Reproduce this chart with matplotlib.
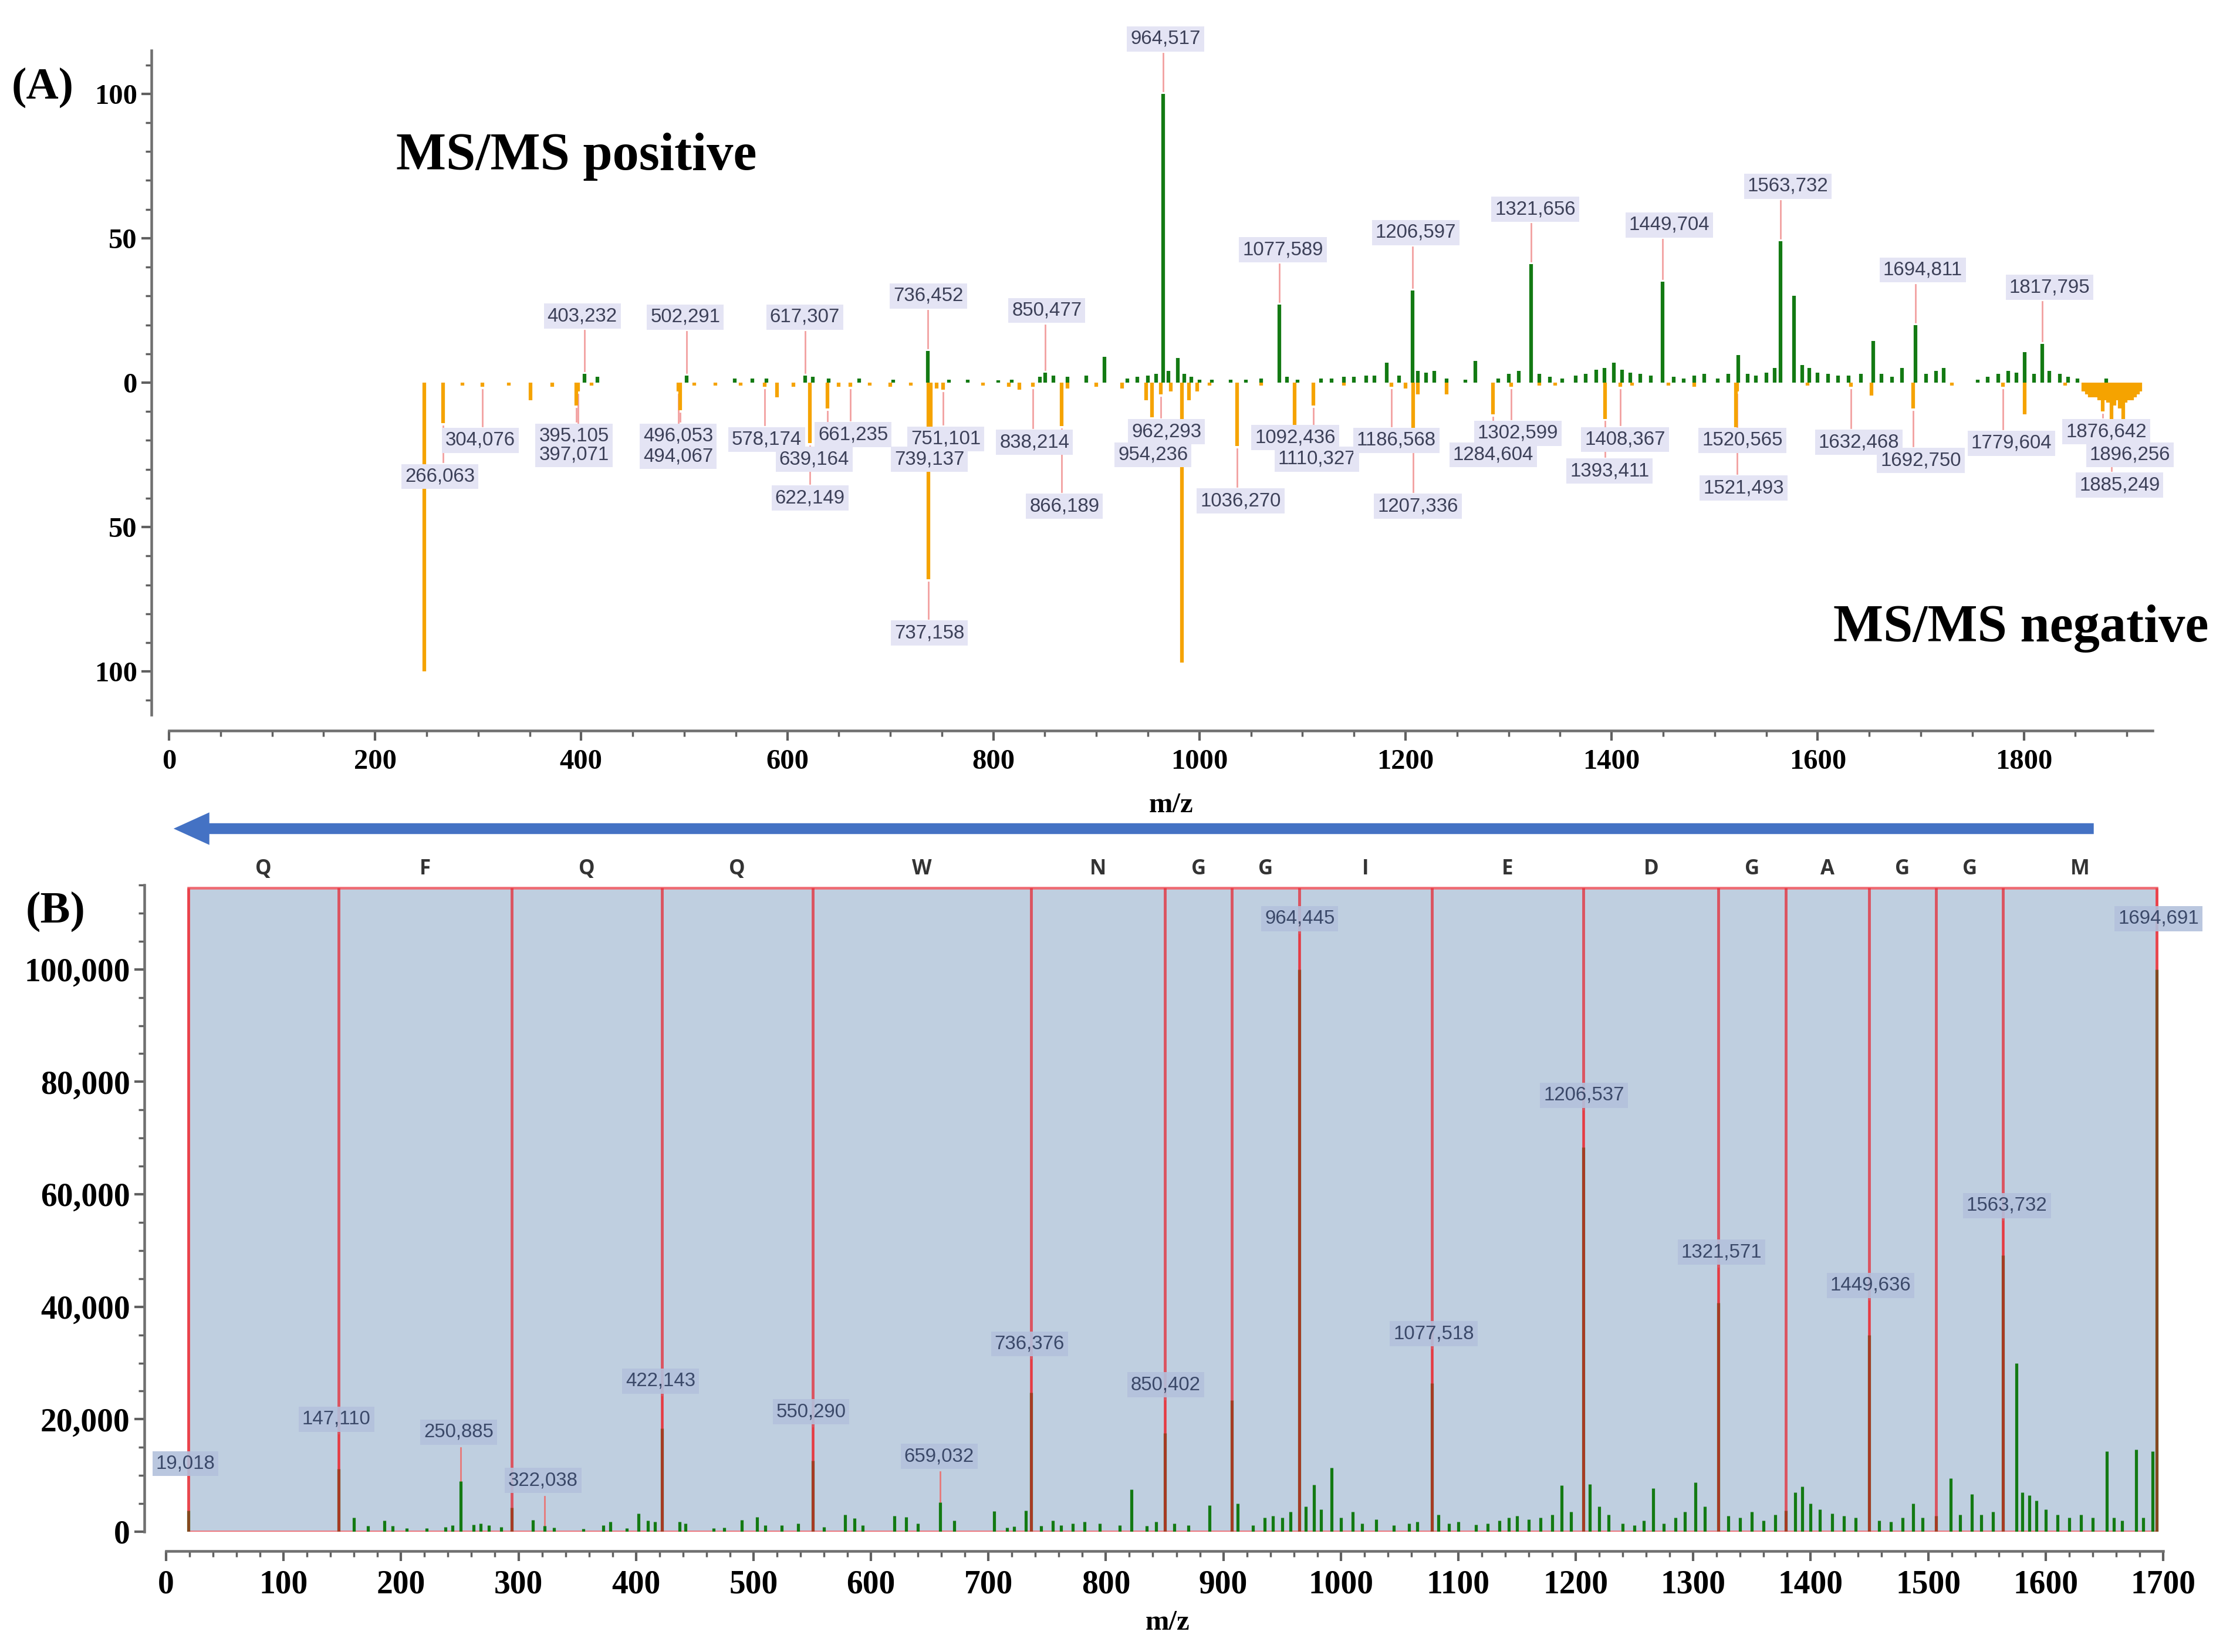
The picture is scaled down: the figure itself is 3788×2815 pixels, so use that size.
import matplotlib
matplotlib.use('Agg')
import matplotlib.pyplot as plt
from matplotlib.patches import FancyArrow, Rectangle
from matplotlib.ticker import MultipleLocator, FuncFormatter

# ---------------- panel A data (relative intensity, %) ----------------
pos_mz = [403.232, 416, 502.291, 549, 566, 580, 617.307, 625, 640, 670, 703, 736.452, 757,
          775, 805, 818, 845, 850.477, 858, 872, 890, 908, 930, 940, 950, 958, 964.517, 970,
          979, 985, 992, 1000, 1012, 1030, 1045, 1060, 1077.589, 1085, 1095, 1118, 1128, 1140,
          1150, 1162, 1170, 1182, 1194, 1206.597, 1212, 1220, 1228, 1240, 1258, 1268, 1290,
          1300, 1310, 1321.656, 1330, 1340, 1352, 1365, 1375, 1385, 1393, 1402, 1410, 1418,
          1428, 1438, 1449.704, 1460, 1470, 1480, 1490, 1503, 1513, 1523, 1532, 1540, 1550,
          1558, 1563.732, 1577, 1585, 1592, 1600, 1610, 1620, 1630, 1642, 1654, 1662, 1672,
          1682, 1694.811, 1705, 1715, 1722, 1755, 1765, 1775, 1785, 1793, 1801, 1810,
          1817.795, 1825, 1835, 1843, 1852, 1880]
pos_int = [3, 2, 2.5, 1.5, 1.5, 1.5, 2.5, 2, 1.5, 1.5, 1, 11, 1,
           1, 0.8, 1, 2, 3.5, 2.5, 2, 2.5, 9, 1.5, 2, 2.5, 3, 100, 4,
           8.5, 3, 2, 1, 1, 1, 1, 1.5, 27, 2, 1, 1.5, 1.5, 2,
           2, 2.5, 2.5, 7, 2.5, 32, 4, 3.5, 4, 1.5, 1, 7.5, 1.5,
           3, 4, 41, 3, 2, 1.5, 2.5, 3, 4.5, 5, 7, 4.5, 3.5,
           3, 2.5, 35, 2, 1.5, 2.5, 3, 1.5, 3, 9.5, 3, 2.5, 3.5,
           5, 49, 30, 6, 5, 3.5, 3, 2.5, 2.5, 3, 14.5, 3, 2,
           5, 20, 3, 4, 5, 1, 2, 3, 4, 3.5, 10.5, 3,
           13.5, 4, 3, 2, 1.5, 1.5]

neg_mz = [248, 266.063, 285, 304.076, 330, 351, 372, 395.105, 397.071, 410, 494.067, 496.053,
          510, 530, 555, 578.174, 590, 606, 622.149, 639.164, 650, 661.235, 680, 700, 720,
          737.158, 739.137, 745, 751.101, 790, 815, 825, 838.214, 866.189, 872, 900, 925, 948,
          954.236, 962.293, 972, 983, 990, 998, 1010, 1036.270, 1060, 1092.436, 1110.327, 1140,
          1186.568, 1200, 1207.336, 1212, 1240, 1284.604, 1302.599, 1330, 1345, 1393.411,
          1408.367, 1420, 1455, 1480, 1520.565, 1521.493, 1590, 1632.468, 1652, 1692.750, 1730,
          1779.604, 1801, 1840, 1858, 1861, 1864, 1867, 1870, 1873, 1876.642, 1879, 1882,
          1885.249, 1888, 1891, 1893, 1896.256, 1899, 1902, 1905, 1908, 1911, 1913]
neg_int = [100, 14, 1, 1.5, 1, 6, 1.5, 8, 3, 1, 3, 9.5,
           1, 1, 1, 1.5, 5, 1.5, 21, 9, 1.5, 1.5, 1, 1.5, 1,
           68, 20, 2, 2.5, 1, 1.5, 2.5, 1.5, 15, 2, 1.5, 2, 6,
           12, 4, 3, 97, 6, 3, 1, 22, 1, 15, 8, 1,
           1.5, 2, 16, 4, 4, 11, 1.5, 1, 1, 12.5,
           1.5, 1, 1, 1.5, 15.5, 3, 1, 1.5, 4.5, 9, 1,
           1.5, 11, 1, 3, 4, 5, 5, 5, 6, 10, 6, 7,
           15, 8, 6, 9, 15, 7, 6, 6, 5, 4, 3]

# annotated peaks: m/z, label centre x, label centre y
pos_lab_mz = [403.232, 502.291, 617.307, 736.452, 850.477, 964.517, 1077.589, 1206.597,
              1321.656, 1449.704, 1563.732, 1694.811, 1817.795]
pos_lab_x = [401, 501, 617, 737, 852, 967, 1081, 1210, 1326, 1456, 1571, 1702, 1825]
pos_lab_y = [23, 22.7, 22.7, 30, 25, 119, 46, 52, 60, 54.6, 68, 39, 33]

neg_lab_mz = [266.063, 304.076, 395.105, 397.071, 496.053, 494.067, 578.174, 661.235, 639.164,
              622.149, 751.101, 739.137, 737.158, 838.214, 866.189, 962.293, 954.236, 1036.270,
              1092.436, 1110.327, 1186.568, 1207.336, 1302.599, 1284.604, 1408.367, 1393.411,
              1520.565, 1521.493, 1632.468, 1692.750, 1779.604, 1876.642, 1896.256, 1885.249]
neg_lab_x = [263, 302, 393, 393, 494, 494, 580, 664, 626, 622, 754, 738, 738, 840, 869, 968,
             955, 1040, 1093, 1114, 1191, 1212, 1309, 1285, 1413, 1398, 1527, 1528, 1640, 1700,
             1788, 1880, 1903, 1893]
neg_lab_y = [-32.5, -20, -18.5, -25, -18.5, -25.5, -19.7, -18, -26.6, -40, -19.5, -26.6, -86.7,
             -20.7, -42.8, -17, -25, -41, -19, -26.5, -20, -42.8, -17.5, -25, -19.7, -30.6,
             -20, -36.5, -20.7, -27, -21, -17, -25, -35.5]

# ---------------- panel B data (absolute intensity) ----------------
b_mz = [19.018, 147.110, 160, 172, 186, 193, 205, 222, 238, 244, 250.885, 262, 268, 275, 285,
        294.18, 312, 322.038, 330, 355, 372, 378, 392, 402, 410, 416, 422.143, 437, 442, 466,
        475, 490, 503, 510, 524, 538, 550.290, 560, 578, 586, 593, 620, 630, 640, 659.032, 671,
        705, 716, 722, 732, 736.376, 745, 755, 762, 772, 782, 795, 812, 822, 835, 843, 850.402,
        858, 870, 888, 907.42, 912, 925, 935, 942, 950, 957, 964.445, 970, 977, 983, 992, 1000,
        1010, 1018, 1030, 1045, 1058, 1065, 1077.518, 1083, 1092, 1100, 1115, 1125, 1135, 1143,
        1150, 1160, 1170, 1180, 1188, 1196, 1206.537, 1212, 1220, 1228, 1240, 1250, 1258, 1266,
        1275, 1285, 1293, 1302, 1310, 1321.571, 1330, 1340, 1350, 1360, 1370, 1378.59, 1387,
        1393, 1400, 1408, 1418, 1428, 1438, 1449.636, 1458, 1468, 1478, 1487, 1495, 1506.65,
        1519, 1527, 1537, 1545, 1555, 1563.732, 1575, 1580, 1586, 1592, 1600, 1610, 1620, 1630,
        1640, 1652, 1658, 1665, 1677, 1683, 1691, 1694.691]
b_int = [3800, 11200, 2500, 1000, 2000, 1000, 600, 600, 800, 1200, 9000, 1300, 1500, 1200, 800,
         4300, 2100, 1000, 700, 500, 1200, 1800, 600, 3200, 2000, 1800, 18400, 1800, 1500, 600,
         700, 2100, 2600, 1200, 1200, 1500, 12600, 800, 3000, 2400, 1200, 2800, 2600, 1500, 5200, 2000,
         3700, 700, 900, 3800, 24700, 1000, 2000, 1200, 1500, 1800, 1500, 1200, 7500, 1000, 1800, 17500,
         1500, 1200, 4700, 23400, 5000, 1200, 2500, 2800, 2500, 3500, 100000, 4500, 8300, 4000, 11400, 2500,
         3500, 1500, 2200, 1200, 1500, 1800, 26400, 3000, 1500, 1800, 1300, 1500, 2000, 2500,
         2800, 2200, 2500, 3000, 8200, 3500, 68400, 8500, 4500, 3000, 1500, 1200, 2000, 7700,
         1500, 2500, 3500, 8800, 4500, 40700, 2800, 2500, 3500, 2000, 3000, 3800, 7000,
         8000, 5000, 4000, 3200, 2800, 2500, 35000, 2000, 1800, 2500, 5000, 2500, 2800,
         9500, 3000, 6700, 3000, 3500, 49200, 29900, 7000, 6500, 5500, 4000, 3000, 2500, 3000,
         2500, 14300, 2500, 2000, 14600, 2500, 14300, 100000]

b_lab_mz = [19.018, 147.110, 250.885, 322.038, 422.143, 550.290, 659.032, 736.376, 850.402,
            964.445, 1077.518, 1206.537, 1321.571, 1449.636, 1563.732, 1694.691]
b_lab_x = [16.5, 145, 249, 321, 421, 549, 658, 735, 851, 965, 1079, 1207, 1324, 1451, 1567, 1696]
b_lab_y = [12100, 20000, 17700, 9100, 26800, 21300, 13400, 33400, 26100, 109000, 35200, 77600,
           49700, 43800, 58000, 109000]

residues = ['Q', 'F', 'Q', 'Q', 'W', 'N', 'G', 'G', 'I', 'E', 'D', 'G', 'A', 'G', 'G', 'M']
bounds = [19.018, 147.110, 294.18, 422.143, 550.290, 736.376, 850.402, 907.42, 964.445,
          1077.518, 1206.537, 1321.571, 1378.59, 1449.636, 1506.65, 1563.732, 1694.691]

# ---------------- figure ----------------
SERIF = 'Liberation Serif'
LABF = ['Liberation Sans Narrow', 'Liberation Sans']
GREEN = '#137a13'
ORANGE = '#f5a300'
PINK = '#f2a0a0'

plt.rcParams['font.family'] = SERIF
plt.rcParams['font.weight'] = 'bold'

W, H, DPI = 3788, 2815, 250
fig = plt.figure(figsize=(W / DPI, H / DPI), dpi=DPI)


def fx(px):
    return px / W


def fy(py):
    return 1 - py / H


def fmt_mz(v):
    return f'{v:.3f}'.replace('.', ',')


def style_axes(ax, left_off, bottom_off, lsize):
    for s in ['top', 'right']:
        ax.spines[s].set_visible(False)
    ax.spines['left'].set_position(('outward', left_off))
    ax.spines['bottom'].set_position(('outward', bottom_off))
    for s in ['left', 'bottom']:
        ax.spines[s].set_color('#707070')
        ax.spines[s].set_linewidth(1.3)
    ax.tick_params(which='major', length=5, width=1.2, color='#606060', labelsize=lsize)
    ax.tick_params(which='minor', length=3, width=1.0, color='#606060')
    ax.patch.set_alpha(0)


# ---------- panel A ----------
axA = fig.add_axes([fx(288), fy(1218), (3668 - 288) / W, (1218 - 86) / H])
axA.set_xlim(0, 1925)
axA.set_ylim(-115, 115)
style_axes(axA, 8.6, 7.8, 14)
axA.xaxis.set_major_locator(MultipleLocator(200))
axA.xaxis.set_minor_locator(MultipleLocator(50))
axA.yaxis.set_major_locator(MultipleLocator(50))
axA.yaxis.set_minor_locator(MultipleLocator(10))
axA.yaxis.set_major_formatter(FuncFormatter(lambda v, p: f'{abs(int(round(v)))}'))
axA.tick_params(axis='x', which='major', pad=4)
axA.tick_params(axis='y', which='major', pad=2)

axA.vlines(pos_mz, 0, pos_int, color=GREEN, lw=1.8, zorder=3)
axA.vlines(neg_mz, 0, [-v for v in neg_int], color=ORANGE, lw=1.8, zorder=3)

lab_box = dict(boxstyle='square,pad=0.18', fc='#e4e4f4', ec='none')
peak_a = dict(zip(pos_mz, pos_int))
peak_a.update({m: -v for m, v in zip(neg_mz, neg_int)})

for m, lx, ly in zip(pos_lab_mz, pos_lab_x, pos_lab_y):
    top = peak_a.get(m, 1)
    if ly - 5 > top + 1:
        axA.plot([m, m], [top + 1, ly - 5], color=PINK, lw=0.8, zorder=2, clip_on=False)
    axA.text(lx, ly, fmt_mz(m), ha='center', va='center', fontsize=9.5, family=LABF,
             weight='normal', color='#3c4058', bbox=lab_box, zorder=5, clip_on=False)

for m, lx, ly in zip(neg_lab_mz, neg_lab_x, neg_lab_y):
    tip = peak_a.get(m, -1)
    if ly + 5 < tip - 1:
        axA.plot([m, m], [tip - 1, ly + 5], color=PINK, lw=0.8, zorder=2)
    axA.text(lx, ly, fmt_mz(m), ha='center', va='center', fontsize=9.5, family=LABF,
             weight='normal', color='#3c4058', bbox=lab_box, zorder=5)

# ---------- panel B ----------
axB = fig.add_axes([fx(283), fy(2610), (3686 - 283) / W, (2610 - 1508) / H])
axB.set_xlim(0, 1700)
axB.set_ylim(0, 115000)
style_axes(axB, 10.7, 9.5, 16)
axB.xaxis.set_major_locator(MultipleLocator(100))
axB.xaxis.set_minor_locator(MultipleLocator(20))
axB.yaxis.set_major_locator(MultipleLocator(20000))
axB.yaxis.set_minor_locator(MultipleLocator(5000))
axB.yaxis.set_major_formatter(FuncFormatter(lambda v, p: f'{int(v):,}'))
axB.tick_params(axis='x', which='major', pad=4)
axB.tick_params(axis='y', which='major', pad=2)

box_top = 114500
axB.add_patch(Rectangle((bounds[0], 0), bounds[-1] - bounds[0], box_top, fc='#bfcfe0',
                        ec='#ee6a72', lw=1.3, zorder=1))
axB.vlines(b_mz, 0, b_int, color=GREEN, lw=1.5, zorder=3)
axB.vlines(bounds[1:-1], 0, box_top, color='#e8202a', alpha=0.7, lw=1.4, zorder=4)
axB.vlines([bounds[0], bounds[-1]], 0, box_top, color='#e8202a', alpha=0.55, lw=1.4, zorder=4)

for i, r in enumerate(residues):
    axB.text((bounds[i] + bounds[i + 1]) / 2, 117800, r, ha='center', va='center',
             fontsize=10, fontweight='bold', family=['Open Sans', 'DejaVu Sans'],
             color='#333333', clip_on=False)

peak_b = dict(zip(b_mz, b_int))
lab_box_b = dict(boxstyle='square,pad=0.18', fc='#b3c1dc', ec='none', alpha=0.9)
for m, lx, ly in zip(b_lab_mz, b_lab_x, b_lab_y):
    top = peak_b.get(m, 1000)
    if ly - 2800 > top:
        axB.plot([m, m], [top, ly - 2800], color='#e87878', lw=0.8, zorder=2)
    axB.text(lx, ly, fmt_mz(m), ha='center', va='center', fontsize=9.5, family=LABF,
             weight='normal', color='#3a4868', bbox=lab_box_b, zorder=5, clip_on=False)

# ---------- figure texts ----------
fig.text(fx(20), fy(168), '(A)', fontsize=22, va='baseline')
fig.text(fx(44), fy(1572), '(B)', fontsize=22, va='baseline')
fig.text(fx(675), fy(289), 'MS/MS positive', fontsize=26, va='baseline')
fig.text(fx(3763), fy(1093), 'MS/MS negative', fontsize=26, va='baseline', ha='right')
fig.text(fx(1996), fy(1372), 'm/z', fontsize=14, ha='center', va='center')
fig.text(fx(1990), fy(2765), 'm/z', fontsize=14, ha='center', va='center')

# sequence-reading arrow between the panels
fig.add_artist(FancyArrow(fx(3566), fy(1412), -(3566 - 300) / W, 0, width=15 / H,
                          head_width=50 / H, head_length=55 / W, length_includes_head=True,
                          color='#4472c4', transform=fig.transFigure))

fig.savefig('out.png', dpi=DPI)
